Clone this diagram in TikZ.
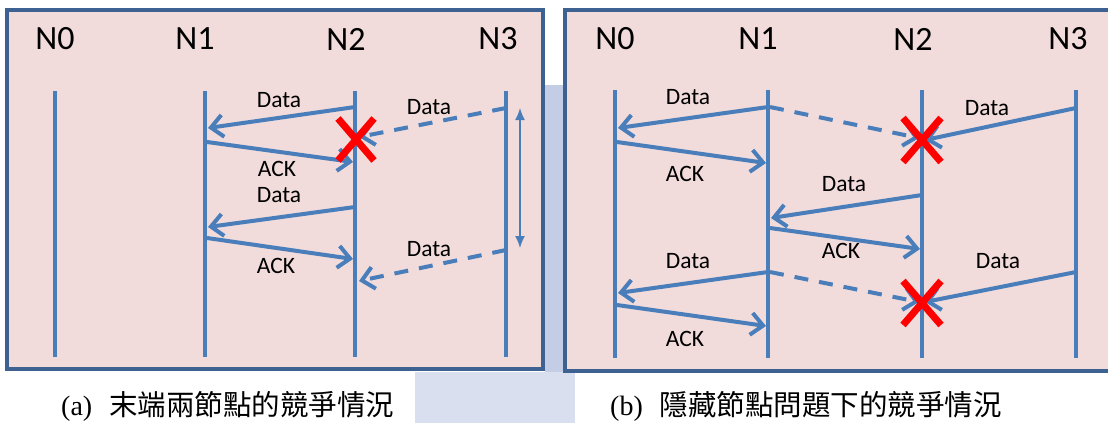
\documentclass[tikz,border=0pt]{standalone}
\usepackage{fontspec}
\setmainfont{Carlito}
\newfontfamily\capserif{Liberation Serif}
\newfontfamily\cjk{Noto Sans CJK TC}
\usetikzlibrary{arrows.meta}

\definecolor{panelfill}{HTML}{F2DCDB}
\definecolor{panelrule}{HTML}{3D6291}
\definecolor{msgblue}{HTML}{4A7EBB}
\definecolor{markred}{HTML}{FF0000}
\definecolor{haze}{HTML}{C3CDE6}
\definecolor{hazelight}{HTML}{D9DFEF}

\tikzset{
  panel/.style={draw=panelrule, line width=4pt, fill=panelfill},
  nodename/.style={font=\fontsize{34}{36}\selectfont, inner sep=0pt},
  msglabel/.style={font=\fontsize{23.5}{25}\selectfont, inner sep=0pt},
  lifeline/.style={draw=msgblue, line width=4.5pt},
  msg/.style={draw=msgblue, line width=4pt,
    -{Straight Barb[length=12pt, width=22pt, line cap=butt]}},
  msgdash/.style={msg, dash pattern=on 14pt off 11pt},
  span/.style={draw=msgblue, line width=1.5pt,
    {Latex[length=12pt, width=10pt]}-{Latex[length=12pt, width=10pt]}},
  lost/.style={draw=markred, line width=7pt},
  caption/.style={anchor=base west, inner sep=0pt},
}

\begin{document}
\begin{tikzpicture}[x=1pt, y=-1pt]
\useasboundingbox (0,0) rectangle (1108,423);
\clip (0,0) rectangle (1108,423);

% faint background behind the panels
\fill[haze] (545,85) rectangle (563,372);
\fill[hazelight] (415,372) rectangle (575,423);

% ---------------- panel (a) ----------------
\draw[panel] (7,10) rectangle (543,369);

\node[nodename] (a0) at (55,39)  {N0};
\node[nodename] (a1) at (195,39) {N1};
\node[nodename] (a2) at (346,39) {N2};
\node[nodename] (a3) at (498,39) {N3};

\coordinate (a0t) at (55,91);   \coordinate (a0b) at (55,357);
\coordinate (a1t) at (205,91);  \coordinate (a1b) at (205,357);
\coordinate (a2t) at (355,91);  \coordinate (a2b) at (355,357);
\coordinate (a3t) at (506,91);  \coordinate (a3b) at (506,357);
\foreach \n in {a0,a1,a2,a3} \draw[lifeline] (\n t) -- (\n b);

% first exchange N2 -> N1, with the collided frame from N3
\coordinate (am1s) at (355,107); \coordinate (am1e) at (208,128);
\coordinate (am2s) at (207,142); \coordinate (am2e) at (353,162);
\coordinate (am3s) at (506,108); \coordinate (am3e) at (359,137);
\draw[msg] (am1s) -- (am1e);
\draw[msg] (am2s) -- (am2e);
\draw[msgdash] (am3s) -- (am3e);
\node[msglabel] (al1) at (279,100) {Data};
\node[msglabel] (al2) at (277,169) {ACK};
\node[msglabel] (al3) at (429,107) {Data};

% collision mark on N2
\coordinate (ax) at (356,139.5);
\draw[lost] ([shift={(-18,-21)}]ax) -- ([shift={(18,21)}]ax);
\draw[lost] ([shift={(18,-21)}]ax) -- ([shift={(-18,21)}]ax);

% second exchange N2 -> N1
\coordinate (am4s) at (355,207); \coordinate (am4e) at (208,227);
\coordinate (am5s) at (207,238); \coordinate (am5e) at (353,259);
\coordinate (am6s) at (506,250); \coordinate (am6e) at (359,281);
\draw[msg] (am4s) -- (am4e);
\draw[msg] (am5s) -- (am5e);
\draw[msgdash] (am6s) -- (am6e);
\node[msglabel] (al4) at (279,195) {Data};
\node[msglabel] (al5) at (276,266) {ACK};
\node[msglabel] (al6) at (429,249) {Data};

% interval between the two N3 frames
\coordinate (ast) at (520,108); \coordinate (asb) at (520,248);
\draw[span] (ast) -- (asb);

% ---------------- panel (b) ----------------
\draw[panel] (565,10) rectangle (1116,371);

\node[nodename] (b0) at (615,39)  {N0};
\node[nodename] (b1) at (758,39)  {N1};
\node[nodename] (b2) at (913,39)  {N2};
\node[nodename] (b3) at (1068,39) {N3};

\coordinate (b0t) at (615,90);   \coordinate (b0b) at (615,358);
\coordinate (b1t) at (768,90);   \coordinate (b1b) at (768,358);
\coordinate (b2t) at (922,90);   \coordinate (b2b) at (922,358);
\coordinate (b3t) at (1076,90);  \coordinate (b3b) at (1076,358);
\foreach \n in {b0,b1,b2,b3} \draw[lifeline] (\n t) -- (\n b);

% N1 -> N0 data, overheard at N2 while N3 transmits
\coordinate (bm1s) at (768,107);  \coordinate (bm1e) at (618,128);
\coordinate (bm2s) at (770,107);  \coordinate (bm2e) at (919,138);
\coordinate (bm3s) at (1076,108); \coordinate (bm3e) at (925,140);
\coordinate (bm4s) at (617,142);  \coordinate (bm4e) at (766,163);
\draw[msg] (bm1s) -- (bm1e);
\draw[msgdash] (bm2s) -- (bm2e);
\draw[msg] (bm3s) -- (bm3e);
\draw[msg] (bm4s) -- (bm4e);
\node[msglabel] (bl1) at (688,97)  {Data};
\node[msglabel] (bl3) at (987,108) {Data};
\node[msglabel] (bl4) at (685,174) {ACK};

\coordinate (bx1) at (922,140);
\draw[lost] ([shift={(-19,-22)}]bx1) -- ([shift={(19,22)}]bx1);
\draw[lost] ([shift={(19,-22)}]bx1) -- ([shift={(-19,22)}]bx1);

% N2 -> N1 exchange
\coordinate (bm5s) at (922,195); \coordinate (bm5e) at (771,218);
\coordinate (bm6s) at (770,228); \coordinate (bm6e) at (920,249);
\draw[msg] (bm5s) -- (bm5e);
\draw[msg] (bm6s) -- (bm6e);
\node[msglabel] (bl5) at (844,184) {Data};
\node[msglabel] (bl6) at (841,251) {ACK};

% second round, collision again at N2
\coordinate (bm7s) at (768,272);  \coordinate (bm7e) at (618,293);
\coordinate (bm8s) at (770,272);  \coordinate (bm8e) at (919,302);
\coordinate (bm9s) at (1076,272); \coordinate (bm9e) at (925,302);
\coordinate (bm10s) at (617,305); \coordinate (bm10e) at (766,326);
\draw[msg] (bm7s) -- (bm7e);
\draw[msgdash] (bm8s) -- (bm8e);
\draw[msg] (bm9s) -- (bm9e);
\draw[msg] (bm10s) -- (bm10e);
\node[msglabel] (bl7) at (688,261)  {Data};
\node[msglabel] (bl9) at (998,261)  {Data};
\node[msglabel] (bl10) at (685,339) {ACK};

\coordinate (bx2) at (922,303);
\draw[lost] ([shift={(-19,-22)}]bx2) -- ([shift={(19,22)}]bx2);
\draw[lost] ([shift={(19,-22)}]bx2) -- ([shift={(-19,22)}]bx2);

% ---------------- captions ----------------
\node[caption] (capa) at (61,415)
  {\fontsize{28}{30}\selectfont\capserif (a)\hspace{17pt}\fontsize{28.5}{30}\selectfont\cjk 末端兩節點的競爭情況};
\node[caption] (capb) at (610,415)
  {\fontsize{28}{30}\selectfont\capserif (b)\hspace{17pt}\fontsize{28.5}{30}\selectfont\cjk 隱藏節點問題下的競爭情況};
\end{tikzpicture}
\end{document}
